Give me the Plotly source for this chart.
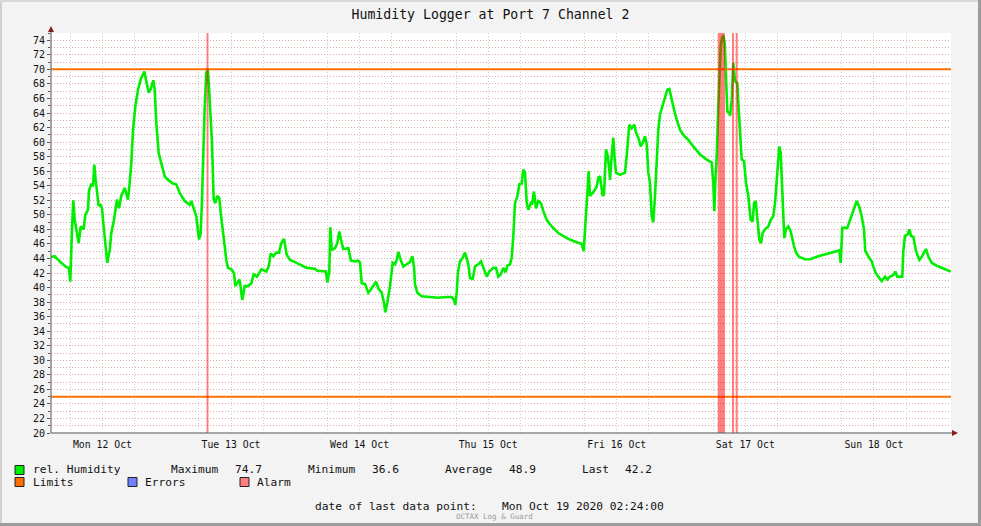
import plotly.graph_objects as go
import pandas as pd

# ---------------- data ----------------
start = pd.Timestamp("2020-10-12 02:24")
end = pd.Timestamp("2020-10-19 02:24")

# hours since start
hours = [0.0, 0.69, 1.92, 2.86, 3.36, 3.60, 3.92, 4.16, 4.42, 4.67, 5.17, 5.54, 6.10, 6.40, 6.91, 7.09, 7.52, 7.84,
         8.08, 8.34, 8.59, 8.90, 9.20, 9.52, 9.76, 10.14, 10.51, 10.96, 11.26, 11.76, 12.32, 12.69, 13.12, 13.76,
         14.37, 14.69, 14.99, 15.31, 15.74, 16.24, 16.74, 17.42, 17.86, 18.24, 18.61, 19.10, 19.36, 19.66, 20.10,
         20.59, 21.22, 21.84, 22.77, 23.39, 24.02, 24.96, 25.89, 26.19, 26.64, 27.12, 27.63, 27.94, 28.19, 28.43,
         28.69, 28.99, 29.25, 29.49, 29.74, 30.05, 30.37, 30.67, 31.04, 31.42, 31.68, 32.05, 32.42, 32.72, 33.04,
         33.66, 34.16, 34.40, 34.72, 35.22, 35.52, 35.71, 36.16, 36.77, 37.39, 37.84, 38.45, 39.26, 40.19, 40.64,
         41.01, 41.50, 42.06, 42.56, 42.99,
         43.49, 44.00, 44.61, 45.55, 46.48, 47.73, 49.28, 49.71, 51.33, 51.58, 51.95, 52.14, 52.40, 53.01, 53.44,
         53.82, 54.13, 54.56, 55.50, 56.00, 56.75, 57.36, 57.68, 58.00, 58.61, 59.23, 59.68, 60.16, 60.67, 61.10,
         61.73, 62.16, 62.40, 62.78, 63.28, 63.78, 64.21, 64.53, 64.83, 65.28, 65.76, 66.40, 67.01, 67.44, 67.76,
         67.95, 68.38, 69.20, 70.75, 72.30, 73.86, 74.80, 75.23, 75.47, 75.73, 75.97, 76.35, 76.85, 77.28, 77.60,
         77.90, 78.21, 78.72, 79.15, 79.76, 80.27, 80.59, 81.01, 81.33, 81.82, 82.56, 83.07, 83.50, 83.94, 84.43,
         84.88, 85.18, 85.68, 86.00, 86.30, 86.61,
         87.04, 87.42, 87.86, 88.16, 88.48, 88.80, 89.10, 89.55, 89.79, 90.16, 90.53, 90.96, 91.47, 91.90, 92.53,
         93.47, 94.70, 96.27, 97.50, 99.07, 99.44, 99.68, 100.11, 100.37, 100.61, 101.12, 101.55, 101.87, 102.16,
         102.48, 102.98, 103.23, 103.60, 103.92, 104.22, 104.35, 104.66, 104.96, 105.22, 105.47, 106.21, 107.15,
         107.46, 107.95, 108.40, 108.88, 109.20, 109.63, 110.08, 110.45, 110.88, 111.20, 111.50, 111.81, 112.13,
         112.43, 112.75, 113.06, 113.36, 113.68, 114.19, 114.61, 115.04, 115.42, 115.86, 116.29, 116.80, 117.41,
         118.03, 118.96, 119.90, 121.15, 122.40, 123.33, 123.63, 123.82, 124.00, 124.27, 124.56, 124.75, 125.01,
         125.25, 125.50, 125.76, 126.00, 126.25, 126.62, 126.75, 127.07, 127.36, 127.68, 128.11, 128.37, 128.61,
         128.93, 129.36, 129.73, 130.16, 130.61, 130.98, 131.23, 131.55, 131.84, 132.22, 132.53, 132.85, 133.28,
         133.90, 134.34, 134.83, 135.15, 135.46, 135.76, 135.95, 136.21, 136.45, 136.70, 136.88, 137.20, 137.63,
         138.08, 138.38, 138.69, 139.07, 139.68, 140.75, 141.68, 143.23, 144.80, 146.35, 147.15, 147.41, 147.71,
         148.64, 149.15, 149.76, 150.40, 150.88, 151.33, 151.76, 152.00, 152.56, 153.20, 153.50, 153.94, 154.43,
         155.06, 155.68, 156.11, 156.61, 157.23, 157.60, 157.98, 158.91, 159.10, 159.41, 159.92, 160.22, 160.53,
         160.96, 161.47, 162.08, 162.53, 162.96, 163.33, 163.76, 164.40, 165.33, 166.26, 167.20, 167.94]

humidity = [44.2, 44.3, 43.4, 42.8, 42.7, 40.8, 48.0, 52.0, 49.3, 48.0, 46.1, 48.4, 48.0, 50.0, 50.7, 53.3, 54.3, 53.9,
            56.9, 54.8, 53.0, 51.2, 51.5, 50.9, 48.9, 46.1, 43.4, 45.2, 47.5, 49.3, 52.1, 50.9, 52.6, 53.7,
            52.1, 54.4, 57.1, 61.7, 64.9, 67.2, 68.6, 69.7, 68.1, 66.8, 67.3, 68.5, 67.2, 62.6, 58.5,
            57.1, 55.3, 54.8, 54.3, 54.2, 53.0, 51.9, 51.4, 51.9, 50.7, 49.8, 46.6, 47.5, 52.1, 59.9,
            64.9, 69.5, 70.1, 67.7, 64.5, 59.9, 52.1, 51.6, 52.6, 52.3, 50.3, 47.5, 45.7, 43.8, 42.7,
            42.5, 42.0, 40.2, 40.6, 41.1, 39.3, 38.3, 40.2, 40.2, 40.6, 41.8, 41.5, 42.5, 42.2, 42.9,
            44.7, 44.3, 44.8, 44.8, 46.1,
            46.7, 44.5, 43.8, 43.5, 43.2, 42.7, 42.6, 42.3, 42.2, 40.7, 42.2, 48.3, 45.2, 45.4, 46.1,
            47.7, 46.6, 45.3, 45.4, 43.7, 43.6, 43.7, 43.4, 40.6, 40.5, 39.3, 39.7, 40.2, 40.8, 39.9,
            39.3, 37.9, 36.6, 37.9, 40.2, 43.4, 43.2, 43.8, 44.9, 43.8, 42.9, 43.2, 43.5, 44.3, 42.9,
            40.4, 39.3, 38.8, 38.7, 38.6, 38.7, 38.7, 38.3, 37.6, 39.3, 42.2, 43.6, 44.1, 44.8, 43.8,
            43.2, 41.3, 41.2, 42.9, 43.2, 43.6, 42.9, 42.2, 41.5, 42.2, 42.7, 42.7, 41.5, 41.8, 42.7,
            42.1, 43.0, 43.2, 44.1, 47.1, 51.6,
            52.5, 54.2, 54.3, 56.2, 55.8, 51.6, 50.7, 51.6, 51.4, 53.2, 50.9, 51.9, 51.6, 50.5, 49.3,
            48.4, 47.5, 46.8, 46.4, 46.0, 45.0, 48.0, 54.4, 56.0, 52.6, 53.0, 53.5, 53.9, 55.1,
            55.3, 52.6, 52.8, 59.0, 58.1, 56.2, 54.8, 58.1, 60.6, 57.6, 55.8, 55.5, 55.8,
            58.1, 62.4, 61.9, 62.4, 61.3, 60.6, 59.4, 59.9, 60.8, 59.7, 55.8, 54.4, 49.8,
            49.0, 52.6, 57.1, 61.7, 63.8, 65.2, 66.3, 67.2, 67.3, 65.8, 64.5, 63.1, 61.7,
            61.0, 60.3, 59.4, 58.3, 57.6, 57.2, 54.4, 50.5, 54.4, 58.1, 64.9, 69.5, 73.2,
            74.3, 74.7, 73.6, 69.5, 64.2, 64.0, 63.6, 65.8, 70.9, 68.4, 68.1, 64.5, 62.0,
            57.6, 57.4, 54.4, 52.6, 49.3, 49.1, 51.6, 51.9, 49.8, 46.6, 46.1, 47.5, 48.0,
            48.4, 49.3, 49.8, 51.6, 54.8, 58.5, 59.4, 58.5, 54.8, 50.3, 46.8, 48.0, 48.4,
            47.7, 46.6, 45.7, 44.8, 44.2, 43.9, 43.9, 44.3, 44.6, 44.9, 45.1, 43.4, 48.2,
            48.2, 49.3, 50.7, 51.9, 51.1, 49.8, 48.0, 45.0, 44.3, 43.6, 42.9, 42.0, 41.5,
            40.9, 41.5, 41.1, 41.5, 41.7, 42.2, 41.5, 41.5, 45.0, 47.1, 47.3, 48.0, 47.1,
            47.0, 45.0, 43.8, 44.2, 44.8, 45.3, 44.3, 43.4, 43.0, 42.7, 42.5, 42.2]

# alarm state changes (hours since start, state 1 = alarm active)
alarm_hours = [0.0, 29.03, 29.40, 124.45, 125.81, 127.12, 127.50, 127.81, 128.19, 168.0]
alarm_state = [0, 1, 0, 1, 0, 1, 0, 1, 0, 0]

limit_upper = 70
limit_lower = 25

day_dates = ["2020-10-12", "2020-10-13", "2020-10-14", "2020-10-15", "2020-10-16", "2020-10-17", "2020-10-18"]
day_labels = ["Mon 12 Oct", "Tue 13 Oct", "Wed 14 Oct", "Thu 15 Oct", "Fri 16 Oct", "Sat 17 Oct", "Sun 18 Oct"]
midnights = ["2020-10-13", "2020-10-14", "2020-10-15", "2020-10-16", "2020-10-17", "2020-10-18", "2020-10-19"]

stat_names = ["Maximum", "Minimum", "Average", "Last"]
stat_values = ["74.7", "36.6", "48.9", "42.2"]
last_point = "Mon Oct 19 2020 02:24:00"

# ---------------- build ----------------
times = start + pd.to_timedelta(hours, unit="h")
alarm_times = start + pd.to_timedelta(alarm_hours, unit="h")

GREEN = "#00ee00"
ORANGE = "#ff6f00"
BLUE = "#7080ff"
PINK = "#ff7f7f"
MONO = "DejaVu Sans Mono"
PINKGRID = "#e2a8a8"
GRAYGRID = "#cfcfcf"

fig = go.Figure()
fig.add_trace(go.Scatter(x=times, y=humidity, mode="lines",
                         line=dict(color=GREEN, width=2.6), hoverinfo="skip"))
for lim in (limit_upper, limit_lower):
    fig.add_trace(go.Scatter(x=[start, end], y=[lim, lim], mode="lines",
                             line=dict(color=ORANGE, width=2), hoverinfo="skip"))
fig.add_trace(go.Scatter(x=alarm_times, y=alarm_state, mode="lines", yaxis="y2",
                         line=dict(width=0, shape="hv"), fill="tozeroy",
                         fillcolor="rgba(255,0,0,0.5)", hoverinfo="skip"))

# x ticks: every 6 hours (gray grid), labels at noon
tickvals, ticktext = [], []
for d, lab in zip(day_dates, day_labels):
    for hh, txt in (("06:00", ""), ("12:00", lab), ("18:00", "")):
        tickvals.append(f"{d} {hh}")
        ticktext.append(txt)

W, H = 981, 526
L, R, T, B = 51, 30, 33, 93
pw, ph = W - L - R, H - T - B


def PX(x):
    return (x - L) / pw


def PY(y):
    return (H - B - y) / ph


shapes = []
# frame
shapes.append(dict(type="rect", xref="paper", yref="paper", x0=PX(0), x1=PX(2), y0=PY(H), y1=PY(0),
                   fillcolor="#d0d0d0", line=dict(width=0), layer="below"))
shapes.append(dict(type="rect", xref="paper", yref="paper", x0=PX(0), x1=PX(W), y0=PY(2), y1=PY(0),
                   fillcolor="#d8d8d8", line=dict(width=0), layer="below"))
shapes.append(dict(type="rect", xref="paper", yref="paper", x0=PX(W - 3), x1=PX(W), y0=PY(H), y1=PY(0),
                   fillcolor="#9c9c9c", line=dict(width=0), layer="below"))
shapes.append(dict(type="rect", xref="paper", yref="paper", x0=PX(0), x1=PX(W), y0=PY(H), y1=PY(H - 3),
                   fillcolor="#9c9c9c", line=dict(width=0), layer="below"))
# axis extensions and arrows
shapes.append(dict(type="line", xref="paper", yref="paper", x0=PX(51), x1=PX(51), y0=PY(433), y1=PY(30),
                   line=dict(color="#555555", width=1)))
shapes.append(dict(type="path", xref="paper", yref="paper",
                   path=f"M {PX(48)},{PY(32)} L {PX(51)},{PY(26)} L {PX(54)},{PY(32)} Z",
                   fillcolor="#8b1a1a", line=dict(width=0)))
shapes.append(dict(type="line", xref="paper", yref="paper", x0=PX(51), x1=PX(954), y0=PY(433), y1=PY(433),
                   line=dict(color="#555555", width=1)))
shapes.append(dict(type="path", xref="paper", yref="paper",
                   path=f"M {PX(952)},{PY(430)} L {PX(958)},{PY(433)} L {PX(952)},{PY(436)} Z",
                   fillcolor="#8b1a1a", line=dict(width=0)))
# legend boxes
for (x0, y0, col) in ((15, 465.5, GREEN), (15, 477.5, ORANGE), (128, 477.5, BLUE), (240, 477.5, PINK)):
    shapes.append(dict(type="rect", xref="paper", yref="paper", x0=PX(x0), x1=PX(x0 + 9),
                       y0=PY(y0 + 9), y1=PY(y0), fillcolor=col, line=dict(color="#222222", width=1)))

annotations = []


def txt(x, y, s, size=11.2, color="#111111", xanchor="left"):
    annotations.append(dict(xref="paper", yref="paper", x=PX(x), y=PY(y), text=s, showarrow=False,
                            xanchor=xanchor, yanchor="middle", font=dict(family=MONO, size=size, color=color)))


txt(31, 469.5, "rel. Humidity")
stat_label_x = [168.5, 305.5, 442.5, 579.5]
stat_value_x = [233.3, 370.3, 507.3, 623]
for nm, vx, lx, vv in zip(stat_names, stat_value_x, stat_label_x, stat_values):
    txt(lx, 469.5, nm)
    txt(vx, 469.5, vv)
txt(30.5, 482.5, "Limits")
txt(142.5, 482.5, "Errors")
txt(255, 482.5, "Alarm")
txt(313, 506, "date of last data point:")
txt(499.7, 506, last_point)
txt(494, 516, "OCTAX Log &amp; Guard", size=7.5, color="#9a9a9a", xanchor="center")

fig.update_layout(
    width=W, height=H,
    margin=dict(l=L, r=R, t=T, b=B, pad=0),
    paper_bgcolor="#f3f3f3", plot_bgcolor="#ffffff",
    showlegend=False,
    title=dict(text="Humidity Logger at Port 7 Channel 2", x=0.5, xanchor="center",
               y=1 - 14 / H, yanchor="middle", yref="container",
               font=dict(family=MONO, size=13.2, color="#111111")),
    xaxis=dict(type="date", range=[start, end], tickmode="array", tickvals=tickvals, ticktext=ticktext,
               showgrid=True, gridcolor=GRAYGRID, griddash="1px,2px", gridwidth=1,
               ticks="", showline=False, zeroline=False,
               tickfont=dict(family=MONO, size=9.8, color="#111111"), ticklabelstandoff=4),
    xaxis2=dict(type="date", range=[start, end], overlaying="x", anchor="y", side="bottom",
                tickmode="array", tickvals=midnights, showticklabels=False,
                showgrid=True, gridcolor=PINKGRID, griddash="1px,2px", gridwidth=1,
                ticks="outside", ticklen=3, tickcolor="#e06060", showline=False, zeroline=False),
    yaxis=dict(range=[20, 75], tick0=20, dtick=2, showgrid=True, gridcolor=PINKGRID, griddash="1px,2px",
               gridwidth=1, ticks="outside", ticklen=3, tickcolor="#555555", showline=False, zeroline=False,
               minor=dict(dtick=1, tick0=20, showgrid=True, gridcolor=PINKGRID, griddash="1px,2px",
                          ticks="outside", ticklen=2, tickcolor="#555555"),
               tickfont=dict(family=MONO, size=10, color="#111111")),
    yaxis2=dict(range=[0, 1], overlaying="y", anchor="x", side="right", showticklabels=False,
                showgrid=False, zeroline=False, ticks=""),
    shapes=shapes,
    annotations=annotations,
)

fig.write_html("out.html", config={"displayModeBar": False, "staticPlot": True},
               post_script="document.body.style.margin='0px';document.body.style.overflow='hidden';")
